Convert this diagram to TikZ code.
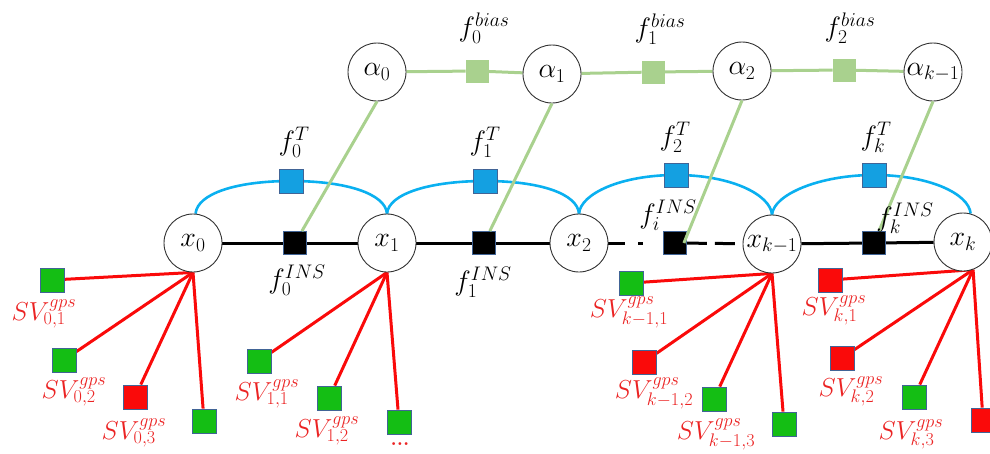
\documentclass[tikz,border=0pt]{standalone}
\usepackage{fix-cm}
\usetikzlibrary{backgrounds}
\definecolor{sqgreen}{RGB}{20,190,20}
\definecolor{sqred}{RGB}{250,10,10}
\definecolor{tblue}{RGB}{20,160,225}
\definecolor{arcblue}{RGB}{10,176,240}
\definecolor{lgreen}{RGB}{169,209,142}
\definecolor{bordc}{RGB}{65,100,150}
\definecolor{svred}{RGB}{235,35,35}
\newcommand{\hisup}[1]{^{\raisebox{4pt}{$\scriptstyle #1$}}}
\tikzset{
  var/.style={circle, draw=black!80, line width=0.9pt, minimum size=58pt, inner sep=0pt, fill=white, font=\fontsize{28}{30}\selectfont},
  lab/.style={inner sep=0pt, font=\fontsize{28}{30}\selectfont},
  svlab/.style={inner sep=0pt, text=svred, font=\fontsize{26}{28}\selectfont},
  sqbase/.style={rectangle, inner sep=0pt, line width=0.8pt},
  insq/.style={sqbase, fill=black, draw=bordc, minimum size=23pt},
  tsq/.style={sqbase, fill=tblue, draw=bordc, minimum size=24pt},
  bsq/.style={sqbase, fill=lgreen, draw=lgreen, minimum size=22pt},
  gsq/.style={sqbase, fill=sqgreen, draw=bordc, minimum size=24pt},
  rsq/.style={sqbase, fill=sqred, draw=bordc, minimum size=24pt},
  blk/.style={line width=3pt, black},
  grn/.style={line width=3pt, lgreen},
  redl/.style={line width=3pt, sqred},
  tarc/.style={line width=2.6pt, arcblue},
  arcup/.style={out=85, in=180, out distance=20pt, in distance=55pt},
  arcdown/.style={out=0, in=95, out distance=55pt, in distance=20pt},
}
\begin{document}
\begin{tikzpicture}[x=1pt,y=-1pt]
\useasboundingbox (0,0) rectangle (990,453);
% state nodes
\node[var] (x0) at (193,243) {$x_0$};
\node[var] (x1) at (387,243) {$x_1$};
\node[var] (x2) at (579,243) {$x_2$};
\node[var] (xk1) at (772,244) {$x_{k-1}$};
\node[var] (xk) at (963,242) {$x_k$};
% bias nodes
\node[var] (a0) at (377,72) {$\alpha_0$};
\node[var] (a1) at (552,74) {$\alpha_1$};
\node[var] (a2) at (742,71) {$\alpha_2$};
\node[var] (ak1) at (933,72) {$\alpha_{k-1}$};
% bias factors
\node[bsq] (b0) at (477,71) {};
\node[bsq] (b1) at (653,72) {};
\node[bsq] (b2) at (844,70) {};
% T factors
\node[tsq] (t0) at (291,181) {};
\node[tsq] (t1) at (485,181) {};
\node[tsq] (t2) at (676,175) {};
\node[tsq] (tk) at (874,175) {};
% INS factors
\node[insq] (i0) at (295,243) {};
\node[insq] (i1) at (484,243) {};
\node[insq] (ii) at (675,243) {};
\node[insq] (ik) at (874,243) {};
% bias-to-INS links
\draw[grn] (a0.south) -- (i0);
\draw[grn] (a1.south) -- (i1);
\draw[grn] (a2.south) -- ([xshift=-3pt]ii.east);
\draw[grn] (ak1.south) -- (ik);
% factor labels
\node[lab] (lb0) at (484,28) {$f_0^{bias}$};
\node[lab] (lb1) at (660,29) {$f_1^{bias}$};
\node[lab] (lb2) at (850,28) {$f_2^{bias}$};
\node[lab] (lt0) at (294,142) {$f_0^{T}$};
\node[lab] (lt1) at (485,142) {$f_1^{T}$};
\node[lab] (lt2) at (675,137) {$f_2^{T}$};
\node[lab] (ltk) at (876,137) {$f_k^{T}$};
\node[lab] (li0) at (297,280) {$f_0^{INS}$};
\node[lab] (li1) at (483,282) {$f_1^{INS}$};
\node[lab] (lii) at (668,215) {$f_i^{INS}$};
\node[lab] (lik) at (905,218) {$f_k^{INS}$};
% GPS factors
\node[gsq] (s01) at (52,280) {};
\node[gsq] (s02) at (64,360) {};
\node[rsq] (s03) at (135,397) {};
\node[gsq] (s04) at (204,421) {};
\node[svlab] (l01) at (44,314) {$SV_{0,1}^{gps}$};
\node[svlab] (l02) at (74,392) {$SV_{0,2}^{gps}$};
\node[svlab] (l03) at (134,433) {$SV_{0,3}^{gps}$};
\node[gsq] (s11) at (259,361) {};
\node[gsq] (s12) at (329,398) {};
\node[gsq] (s13) at (399,422) {};
\node[svlab] (l11) at (267,394) {$SV_{1,1}^{gps}$};
\node[svlab] (l12) at (327,431) {$SV_{1,2}^{gps}$};
\node[inner sep=0pt, text=svred, font=\fontsize{20}{22}\selectfont\bfseries] (dots) at (400,444) {...};
\node[gsq] (sk11) at (631,283) {};
\node[rsq] (sk12) at (644,362) {};
\node[gsq] (sk13) at (714,399) {};
\node[gsq] (sk14) at (784,424) {};
\node[svlab] (lk11) at (629,312) {$SV_{k-1,1}\hisup{gps}$};
\node[svlab] (lk12) at (654,393) {$SV_{k-1,2}\hisup{gps}$};
\node[svlab] (lk13) at (716,434) {$SV_{k-1,3}\hisup{gps}$};
\node[rsq] (sk1) at (830,280) {};
\node[rsq] (sk2) at (842,358) {};
\node[gsq] (sk3) at (914,397) {};
\node[rsq] (sk4) at (983,420) {};
\node[svlab] (lk1) at (834,310) {$SV_{k,1}^{gps}$};
\node[svlab] (lk2) at (851,391) {$SV_{k,2}^{gps}$};
\node[svlab] (lk3) at (911,434) {$SV_{k,3}^{gps}$};
% connectors
\begin{scope}[on background layer]
\draw[grn] (a0) -- (b0) -- (a1);
\draw[grn] (a1) -- (b1) -- (a2);
\draw[grn] (a2) -- (b2) -- (ak1);
\draw[blk] (x0) -- (i0) -- (x1) -- (i1) -- (x2);
\draw[blk, dash pattern=on 17pt off 13pt on 5pt off 20pt] (x2) -- (ii);
\draw[blk, dash pattern=on 20pt off 8pt] (ii) -- (xk1);
\draw[blk] (xk1) -- (ik) -- (xk);
\draw[tarc] (x0.85) to[arcup] (t0.center) to[arcdown] (x1.north);
\draw[tarc] (x1.north) to[arcup] (t1.center) to[arcdown] (x2.north);
\draw[tarc] (x2.north) to[arcup] (t2.center) to[arcdown] (xk1.north);
\draw[tarc] (xk1.north) to[arcup] (tk.center) to[arcdown] (xk.75);
\draw[redl] (x0.south) -- (s01);
\draw[redl] (x0.south) -- (s02);
\draw[redl] (x0.south) -- (s03);
\draw[redl] (x0.south) -- (s04);
\draw[redl] (x1.south) -- (s11);
\draw[redl] (x1.south) -- (s12);
\draw[redl] (x1.south) -- (s13);
\draw[redl] (xk1.south) -- (sk11);
\draw[redl] (xk1.south) -- (sk12);
\draw[redl] (xk1.south) -- (sk13);
\draw[redl] (xk1.south) -- (sk14);
\draw[redl] (xk.290) -- (sk1);
\draw[redl] (xk.290) -- (sk2);
\draw[redl] (xk.290) -- (sk3);
\draw[redl] (xk.290) -- (sk4);
\end{scope}
\end{tikzpicture}
\end{document}
